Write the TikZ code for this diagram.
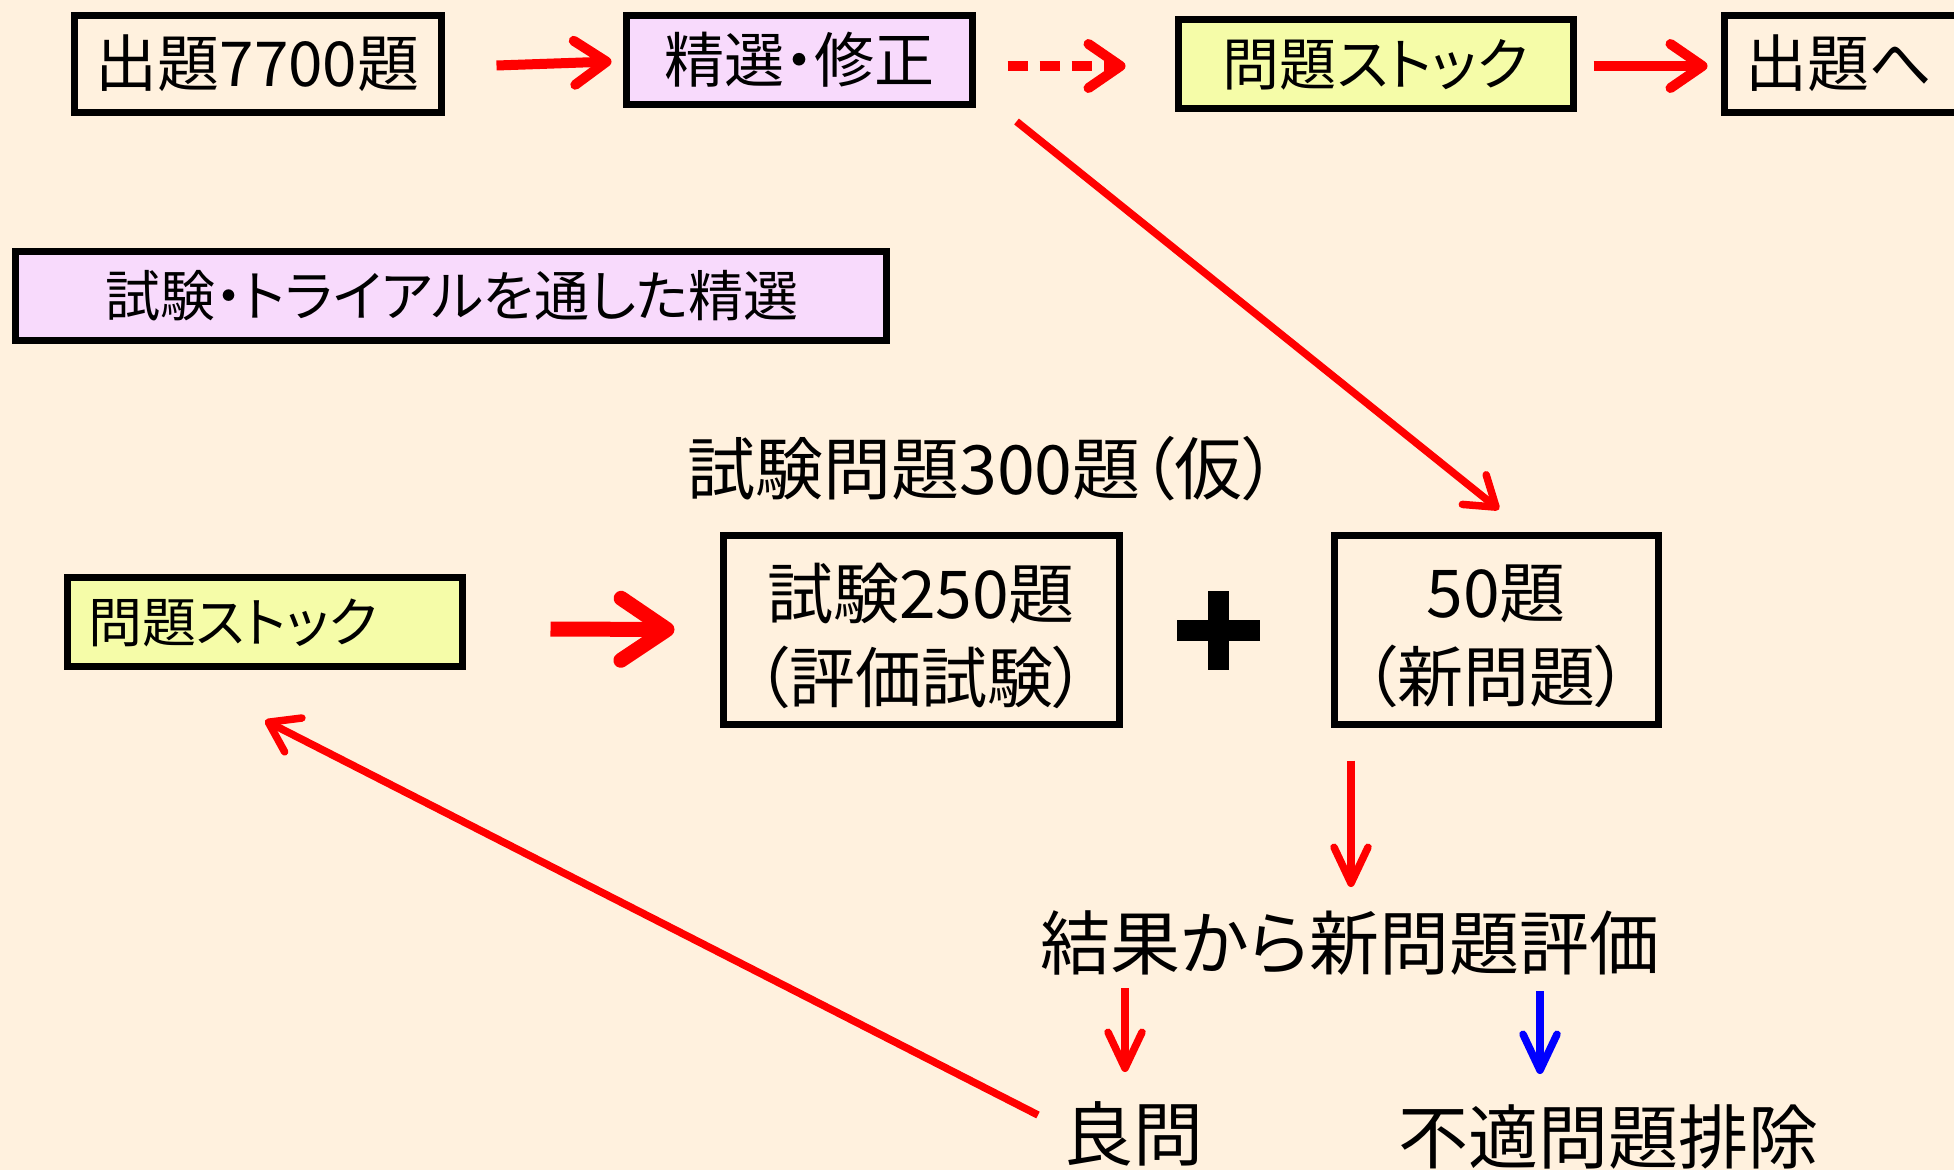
\documentclass[tikz,border=0pt]{standalone}
\usepackage{fontspec}
\setmainfont{Noto Sans CJK JP}[RawFeature=+palt]
\usetikzlibrary{arrows.meta}
\definecolor{bg}{HTML}{FFF1DE}
\definecolor{pinkbox}{HTML}{F8DAFC}
\definecolor{yelbox}{HTML}{F5FCA8}
\definecolor{ared}{HTML}{FF0000}
\definecolor{ablue}{HTML}{0000FF}
\tikzset{
  box/.style={draw=black,line width=7pt,inner sep=0pt,align=center},
  txt/.style={inner sep=0pt,align=center},
  toparrow/.style={draw=ared,line width=10pt,-{Straight Barb[length=32pt,width=44pt,round]}},
  bigarrow/.style={draw=ared,line width=15pt,-{Straight Barb[length=46pt,width=62pt,round]}},
  thinarrow/.style={draw=ared,line width=7.5pt,-{Straight Barb[length=28pt,width=38pt,round]}},
  downarrow/.style={line width=7.5pt,-{Straight Barb[length=36pt,width=34pt,round]}}
}
\begin{document}
\begin{tikzpicture}[x=1pt,y=-1pt]
\useasboundingbox (0,0) rectangle (1954,1170);
\clip (0,0) rectangle (1954,1170);
\fill[bg] (0,0) rectangle (1954,1170);

% top row
\node[box,fill=bg,minimum width=367pt,minimum height=97pt] (b1) at (257.5,63.5) {};
\node[txt,font=\fontsize{62}{66}\selectfont] (t1) at (257.5,63.5) {出題7700題};
\node[box,fill=pinkbox,minimum width=346pt,minimum height=89pt] (b2) at (799,59.5) {};
\node[txt,font=\fontsize{60}{64}\selectfont] (t2) at (799,59.5) {精選・修正};
\node[box,fill=yelbox,minimum width=395pt,minimum height=89pt] (b3) at (1375.5,63.5) {};
\node[txt,font=\fontsize{57}{62}\selectfont] (t3) at (1375.5,64.5) {問題ストック};
\node[box,fill=bg,minimum width=373pt,minimum height=97pt] (b4) at (1910.5,63.5) {};
\node[txt,font=\fontsize{62}{66}\selectfont,anchor=west] (t4) at (1745,63.5) {出題へ};

\draw[toparrow] ([shift={(52,2)}]b1.east) -- ([shift={(-11,2)}]b2.west);
\draw[toparrow,dash pattern=on 20pt off 12pt] ([shift={(32,6.5)}]b2.east) -- ([shift={(-49,2.5)}]b3.west);
\draw[toparrow] ([shift={(17,2.5)}]b3.east) -- ([shift={(-13,2.5)}]b4.west);

% trial box
\node[box,fill=pinkbox,minimum width=871pt,minimum height=89pt] (trial) at (450.5,295.5) {};
\node[txt,font=\fontsize{55}{60}\selectfont] (ttrial) at (452,296) {試験・トライアルを通した精選};

% middle
\node[txt,font=\fontsize{68}{72}\selectfont] (t300) at (982,469) {試験問題300題（仮）};
\node[box,fill=yelbox,minimum width=395pt,minimum height=89pt] (stock) at (264.5,621.5) {};
\node[txt,font=\fontsize{54}{58}\selectfont,anchor=west] (tstock) at (88,622.5) {問題ストック};
\node[box,fill=bg,minimum width=396pt,minimum height=189pt] (b250) at (921,629.5) {};
\node[txt,font=\fontsize{66}{84}\selectfont] (t250) at (921,636) {試験250題\\（評価試験）};
\node[box,fill=bg,minimum width=324pt,minimum height=189pt] (b50) at (1496,629.5) {};
\node[txt,font=\fontsize{66}{84}\selectfont] (t50) at (1496,636) {50題\\（新問題）};
\node[inner sep=0pt,minimum size=0pt] (plus) at (1218.5,630) {};
\fill[black] ([shift={(-41.5,-10.5)}]plus.center) rectangle ([shift={(41.5,10.5)}]plus.center);
\fill[black] ([shift={(-10.5,-39.5)}]plus.center) rectangle ([shift={(10.5,39.5)}]plus.center);

\draw[bigarrow] ([shift={(85,7.5)}]stock.east) -- ([shift={(-45,0)}]b250.west);
\draw[thinarrow] ([shift={(41,14)}]b2.south east) -- ([shift={(3,-22)}]b50.north);

% bottom
\node[txt,font=\fontsize{70}{74}\selectfont] (eval) at (1350,943) {結果から新問題評価};
\node[txt,font=\fontsize{70}{74}\selectfont] (good) at (1133,1134) {良問};
\node[txt,font=\fontsize{70}{74}\selectfont] (bad) at (1608,1137) {不適問題排除};

\draw[downarrow,draw=ared] ([shift={(-145,33)}]b50.south) -- ([shift={(1,-56)}]eval.center);
\draw[downarrow,draw=ared] ([shift={(-225,45)}]eval.center) -- ([shift={(-8,-62)}]good.center);
\draw[downarrow,draw=ablue] ([shift={(190,48)}]eval.center) -- ([shift={(-68,-63)}]bad.center);
\draw[thinarrow] ([shift={(-95,-19)}]good.center) -- ([shift={(0.5,51)}]stock.south);
\end{tikzpicture}
\end{document}
